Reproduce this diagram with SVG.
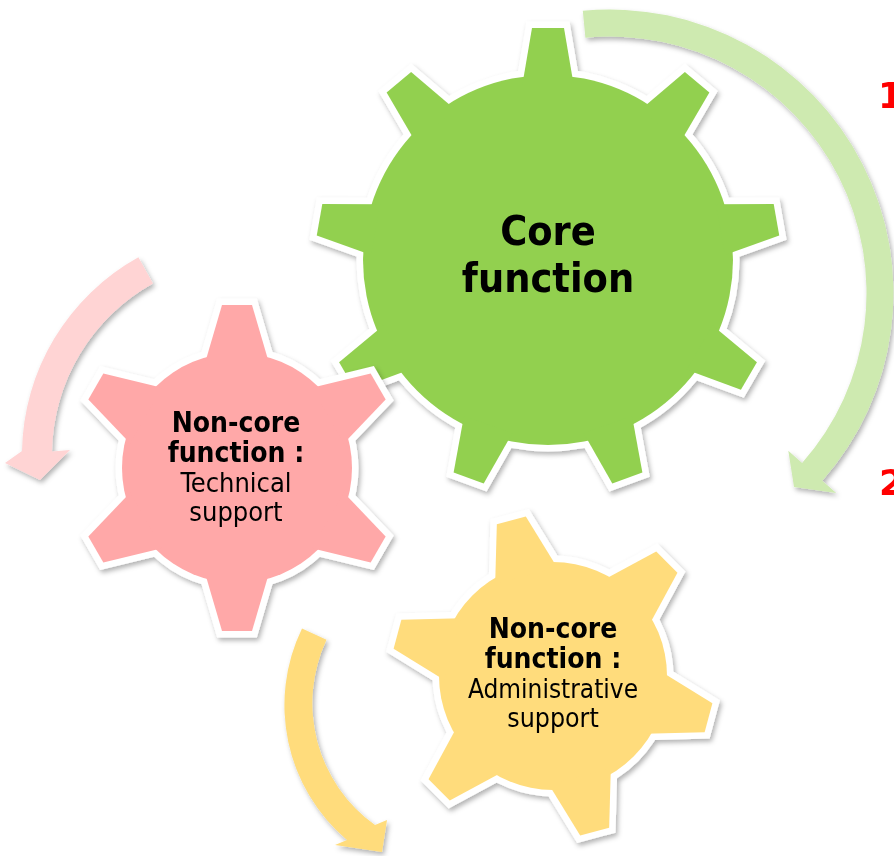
<svg xmlns="http://www.w3.org/2000/svg" width="894" height="856" viewBox="0 0 894 856">
<style>
.ol{fill:#fff;stroke:#fff;stroke-width:13;stroke-linejoin:miter}
.t{font-family:"DejaVu Sans Condensed","DejaVu Sans",sans-serif;text-anchor:middle;fill:#000}
.b{font-weight:bold}
.num{font-family:"DejaVu Sans","Liberation Sans",sans-serif;font-weight:bold;font-size:36px;fill:#FF0000}
</style>
<defs>
<filter id="sh" x="-20%" y="-20%" width="140%" height="140%">
<feDropShadow dx="2" dy="3" stdDeviation="2.5" flood-color="#000" flood-opacity="0.3"/>
</filter>
<path id="toothG" d="M-25.7,-175 L-16,-232 L16,-232 L25.7,-175 Z"/>
<path id="toothP" d="M-32,-105 L-15,-163 L15,-163 L32,-105 Z"/>
<path id="toothY" d="M-32,-104 L-15,-161 L15,-161 L32,-104 Z"/>
<g id="shapeG">
<circle r="185"/>
<use href="#toothG"/>
<use href="#toothG" transform="rotate(40)"/>
<use href="#toothG" transform="rotate(80)"/>
<use href="#toothG" transform="rotate(120)"/>
<use href="#toothG" transform="rotate(160)"/>
<use href="#toothG" transform="rotate(200)"/>
<use href="#toothG" transform="rotate(240)"/>
<use href="#toothG" transform="rotate(280)"/>
<use href="#toothG" transform="rotate(320)"/>
</g>
<g id="shapeP">
<circle r="115"/>
<use href="#toothP"/>
<use href="#toothP" transform="rotate(60)"/>
<use href="#toothP" transform="rotate(120)"/>
<use href="#toothP" transform="rotate(180)"/>
<use href="#toothP" transform="rotate(240)"/>
<use href="#toothP" transform="rotate(300)"/>
</g>
<g id="shapeY">
<circle r="114"/>
<use href="#toothY" transform="rotate(-15)"/>
<use href="#toothY" transform="rotate(45)"/>
<use href="#toothY" transform="rotate(105)"/>
<use href="#toothY" transform="rotate(165)"/>
<use href="#toothY" transform="rotate(225)"/>
<use href="#toothY" transform="rotate(285)"/>
</g>
</defs>
<rect width="894" height="856" fill="#fff"/>
<g id="connectors" filter="url(#sh)">
<path fill="#CEEAB0" d="M582.8,10.8 A283.5,283.5 0 0 1 822.3,480.8 L836.2,493.1 L794,487 L788.3,450.7 L802.1,463 A256.5,256.5 0 0 0 585.4,37.7 Z"/>
<path fill="#FFD4D4" d="M138.4,257.3 A226,226 0 0 0 22,451.1 L5,463 L40,480 L70,450 L52,451.6 A196,196 0 0 1 153,283.6 Z"/>
<path fill="#FFDC7C" d="M302,628.4 A176.5,176.5 0 0 0 347,840 L335,845 L382,852 L387,820 L375,825 A149.5,149.5 0 0 1 326.5,639.8 Z"/>
</g>
<g id="node-core">
<g filter="url(#sh)" transform="translate(548,260)">
<use href="#shapeG" class="ol"/>
<use href="#shapeG" fill="#92D050"/>
</g>
<text class="t b" font-size="41" x="548" y="245">Core</text>
<text class="t b" font-size="41" x="548" y="292">function</text>
</g>
<g id="node-technical">
<g filter="url(#sh)" transform="translate(237,468)">
<use href="#shapeP" class="ol"/>
<use href="#shapeP" fill="#FFA8A8"/>
</g>
<text class="t b" font-size="28" x="236" y="432">Non-core</text>
<text class="t b" font-size="28" x="236" y="462">function :</text>
<text class="t" font-size="27" x="236" y="492">Technical</text>
<text class="t" font-size="27" x="236" y="521">support</text>
</g>
<g id="node-administrative">
<g filter="url(#sh)" transform="translate(553,676)">
<use href="#shapeY" class="ol"/>
<use href="#shapeY" fill="#FFDC7C"/>
</g>
<text class="t b" font-size="28" x="553" y="638">Non-core</text>
<text class="t b" font-size="28" x="553" y="668">function :</text>
<text class="t" font-size="26" x="553" y="698">Administrative</text>
<text class="t" font-size="26.5" x="553" y="727">support</text>
</g>
<g id="labels">
<text class="num" x="878" y="108">1</text>
<text class="num" x="879" y="495">2</text>
</g>
</svg>
